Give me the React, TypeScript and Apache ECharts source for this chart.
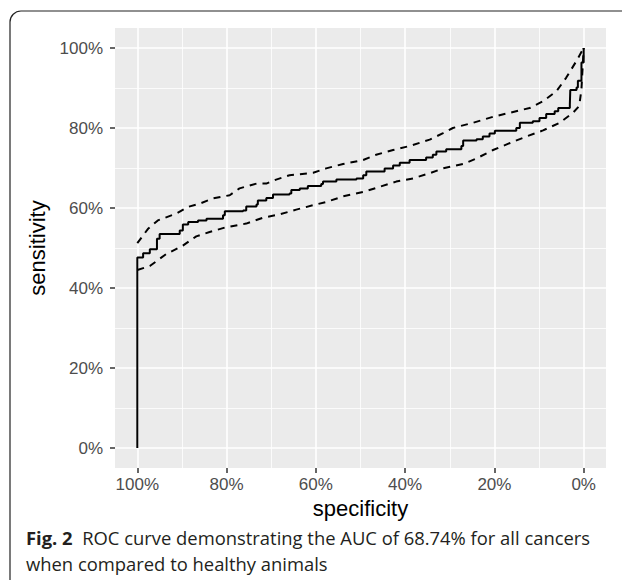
import { useEffect, useRef } from 'react'
import * as echarts from 'echarts'

// ROC curve (specificity %, sensitivity %)
const rocSpec = [100, 100, 98.7, 97.2, 95.6, 95.0, 90.5, 89.8, 88.6, 86.4, 84.5, 80.8, 80.4, 76.3, 75.6, 73.3, 73.0, 71.1, 69.6, 65.9, 65.5, 63.6, 61.8, 58.8, 58.4, 55.4, 50.9, 49.4, 48.7, 45.7, 44.6, 42.7, 41.2, 39.0, 35.3, 33.8, 33.0, 30.8, 27.4, 27.0, 24.0, 22.6, 21.1, 19.9, 15.1, 14.3, 11.4, 9.9, 8.4, 6.5, 5.7, 3.1, 3.0, 1.6, 1.3, 0.5, 0.5, 0]
const rocSens = [0, 47.6, 48.7, 49.7, 52.3, 53.5, 54.4, 55.9, 56.5, 56.9, 57.3, 58.2, 59.2, 59.4, 60.4, 60.9, 61.9, 62.5, 63.4, 63.6, 64.5, 64.9, 65.5, 66.0, 66.6, 67.1, 67.4, 68.2, 69.1, 69.1, 69.9, 70.6, 71.3, 72.0, 72.6, 73.3, 74.1, 74.7, 75.5, 76.9, 77.2, 77.9, 78.6, 79.3, 80.0, 81.3, 81.7, 82.5, 83.5, 84.2, 85.0, 85.9, 89.5, 90.1, 91.8, 91.8, 96.4, 100]

// confidence band
const upperSpec = [100, 97.6, 95.4, 91.3, 88.6, 86.0, 83.0, 79.3, 77.1, 73.3, 71.1, 68.9, 65.9, 60.6, 57.7, 53.9, 49.4, 46.5, 42.7, 39.0, 34.5, 31.5, 29.3, 24.8, 20.3, 16.6, 12.1, 9.1, 6.1, 3.9, 1.6, 0]
const upperSens = [51.2, 54.8, 56.9, 58.6, 60.3, 61.1, 62.4, 63.2, 64.9, 66.1, 66.1, 67.1, 68.2, 68.8, 69.9, 71.0, 72.0, 73.3, 74.5, 75.5, 77.1, 78.7, 80.0, 81.3, 82.8, 83.8, 85.0, 86.7, 89.2, 92.6, 96.8, 100]

const lowerSpec = [100, 97.2, 93.5, 89.8, 86.8, 83.8, 80.1, 75.6, 71.8, 68.1, 64.4, 60.6, 57.7, 53.9, 49.4, 45.7, 42.0, 38.2, 34.5, 31.5, 27.0, 24.0, 20.3, 16.6, 12.8, 9.1, 5.4, 2.4, 1.0, 0.5, 0]
const lowerSens = [44.5, 45.5, 48.5, 50.6, 52.9, 54.0, 55.2, 56.1, 57.6, 58.4, 59.6, 60.7, 61.5, 62.9, 64.0, 65.3, 66.6, 67.4, 68.7, 69.9, 71.0, 72.4, 74.5, 76.2, 77.9, 79.4, 81.3, 83.8, 85.5, 89.7, 100]

const majorTicks = [0, 20, 40, 60, 80, 100]
const minorTicks = [10, 30, 50, 70, 90]

const FONT = 'Liberation Sans, Arial, sans-serif'
const CAPTION_FONT = 'Open Sans, sans-serif'

const zip = (a: number[], b: number[]) => a.map((v, i) => [v, b[i]])

export default function App() {
  const ref = useRef<HTMLDivElement>(null)

  useEffect(() => {
    document.body.style.margin = '0'
    if (!ref.current) return
    const chart = echarts.init(ref.current, null, { renderer: 'svg' })

    // panel gridlines span the whole expanded panel, so draw them as markLines
    const gridLines = [
      ...majorTicks.map((v) => ({ xAxis: v, lineStyle: { width: 1.6 } })),
      ...minorTicks.map((v) => ({ xAxis: v, lineStyle: { width: 0.8 } })),
      ...majorTicks.map((v) => ({ yAxis: v, lineStyle: { width: 1.6 } })),
      ...minorTicks.map((v) => ({ yAxis: v, lineStyle: { width: 0.8 } })),
    ]

    const label = {
      formatter: (v: number) => `${v}%`,
      color: '#4d4d4d',
      fontSize: 17,
      fontFamily: FONT,
    }
    const nameStyle = { color: '#000', fontSize: 22, fontFamily: FONT }
    const tick = { show: true, inside: false, length: 5, lineStyle: { color: '#333', width: 1.5 } }
    const hiddenLine = { show: true, onZero: false, lineStyle: { color: 'rgba(0,0,0,0)' } }

    chart.setOption({
      animation: false,
      grid: [
        // panel (expanded 5% each side like ggplot)
        { left: 115, right: 16, top: 28, bottom: 112, show: true, backgroundColor: '#ebebeb', borderWidth: 0 },
        // x scale 0..100 along the panel's bottom edge
        { left: 137.3, right: 38.3, top: 28, bottom: 112 },
        // y scale 0..100 along the panel's left edge
        { left: 115, right: 16, top: 48, bottom: 132 },
      ],
      xAxis: [
        { type: 'value', gridIndex: 0, inverse: true, min: -5, max: 105, show: false },
        {
          type: 'value', gridIndex: 1, position: 'bottom', inverse: true, min: 0, max: 100, interval: 20,
          axisLine: hiddenLine, splitLine: { show: false }, axisTick: tick,
          axisLabel: { ...label, margin: 8 },
          name: 'specificity', nameLocation: 'middle', nameGap: 23, nameTextStyle: nameStyle,
        },
        { type: 'value', gridIndex: 2, show: false },
      ],
      yAxis: [
        { type: 'value', gridIndex: 0, min: -5, max: 105, show: false },
        { type: 'value', gridIndex: 1, show: false },
        {
          type: 'value', gridIndex: 2, position: 'left', min: 0, max: 100, interval: 20,
          axisLine: hiddenLine, splitLine: { show: false }, axisTick: tick,
          axisLabel: { ...label, margin: 12 },
          name: 'sensitivity', nameLocation: 'middle', nameGap: 59, nameTextStyle: nameStyle,
        },
      ],
      graphic: [
        {
          type: 'rect',
          shape: { x: 10, y: 11, width: 700, height: 700, r: 11 },
          style: { stroke: '#222', lineWidth: 1.2, fill: 'none' },
          silent: true,
        },
        {
          type: 'text',
          left: 26,
          top: 524,
          style: {
            text: '{b|Fig. 2}  ROC curve demonstrating the AUC of 68.74% for all cancers\nwhen compared to healthy animals',
            fontFamily: CAPTION_FONT,
            fontSize: 18.4,
            lineHeight: 26,
            fill: '#231f20',
            rich: { b: { fontWeight: 'bold', fontSize: 18.4, fontFamily: CAPTION_FONT, fill: '#231f20' } },
          },
        },
      ],
      series: [
        {
          type: 'line',
          data: [],
          silent: true,
          z: 1,
          markLine: {
            silent: true,
            z: 0,
            symbol: 'none',
            label: { show: false },
            lineStyle: { color: '#ffffff', type: 'solid', opacity: 1 },
            emphasis: { disabled: true },
            data: gridLines,
          },
        },
        {
          type: 'line',
          data: zip(upperSpec, upperSens),
          showSymbol: false,
          z: 3,
          lineStyle: { color: '#000', width: 2, type: [7, 6] },
        },
        {
          type: 'line',
          data: zip(lowerSpec, lowerSens),
          showSymbol: false,
          z: 3,
          lineStyle: { color: '#000', width: 2, type: [7, 6] },
        },
        {
          type: 'line',
          step: 'end',
          data: zip(rocSpec, rocSens),
          showSymbol: false,
          z: 4,
          lineStyle: { color: '#000', width: 2 },
        },
      ],
    })

    return () => chart.dispose()
  }, [])

  return <div ref={ref} style={{ width: 622, height: 580 }} />
}
